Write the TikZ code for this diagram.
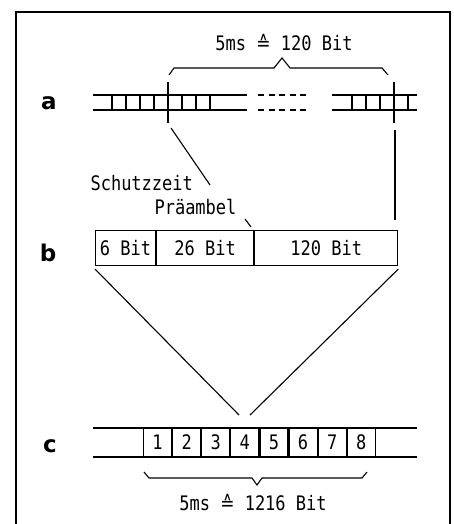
\documentclass[tikz,border=0pt]{standalone}
\usepackage{fontspec}
\setmainfont{DejaVu Sans}
\newfontfamily\typfont[FakeStretch=0.85]{DejaVu Sans Mono}
\newfontfamily\symfont[FakeStretch=0.85]{DejaVu Sans}
\usetikzlibrary{positioning}

\tikzset{
  lbl/.style      = {font=\typfont\fontsize{20}{22}\selectfont, inner sep=0pt},
  rowname/.style  = {font=\bfseries\fontsize{23}{25}\selectfont, inner sep=0pt},
  field/.style    = {draw, lbl, minimum height=35pt, anchor=west},
  slot/.style     = {draw, lbl, minimum width=28pt, minimum height=29pt, anchor=west},
  bitline/.style  = {line width=1.2pt},
  smalltick/.style= {line width=1.1pt},
  bigtick/.style  = {line width=1.1pt}
}

\begin{document}
\begin{tikzpicture}
[
    x=1pt, y=-1pt,
    every path/.style = {line width=1.1pt}
  ]
\useasboundingbox (0,0) rectangle (454,524);
% frame
\draw (16,530) -- (16,12) -- (450,12) -- (450,530);

% row labels
\node[rowname] (la) at (49,103) {a};
\node[rowname] (lb) at (48,253) {b};
\node[rowname] (lc) at (50,446) {c};

% row a
\draw[bitline] (93,95) -- (247,95) (93,110) -- (247,110);
\draw[bitline] (332,95) -- (417,95) (332,110) -- (417,110);
\draw[bitline, dash pattern=on 6pt off 4.5pt] (258,95) -- (310,95) (258,110) -- (310,110);
\foreach \x in {112,126,140,154,182,196,210,352,366,380,408}
  \draw[smalltick] (\x,95) -- (\x,110);
\coordinate (gl) at (168,82);
\coordinate (gr) at (394,82);
\draw[bigtick] (gl) -- ++(0,41);
\draw[bigtick] (gr) -- ++(0,41);

% brace a
\draw (169,75) -- (174,68) -- (274,68) -- (282,58) -- (290,68) -- (382,68) -- (388,75);
\node[lbl] (ta) at (284,43) {5ms {\symfont ≙} 120 Bit};

% row b
\node[field, minimum width=60pt] (f1) at (95,248) {6 Bit};
\node[field, minimum width=97pt, right=0pt of f1] (f2) {26 Bit};
\node[field, minimum width=143pt, right=0pt of f2] (f3) {120 Bit};

\node[lbl, anchor=west] (sz) at (90,183) {Schutzzeit};
\node[lbl, anchor=west] (pa) at (154,207) {Präambel};
\coordinate (szs) at (171,128);
\coordinate (sze) at (210,185);
\draw (szs) -- (sze);
\draw (245,219) -- (251,227);
\coordinate (grs) at (395,130);
\coordinate (gre) at (395,220);
\draw (grs) -- (gre);

% row c
\draw[bitline] (93,428) -- (417,428) (93,457) -- (417,457);
\node[slot] (s1) at (143,442.5) {1};
\foreach \i [remember=\i as \j (initially 1)] in {2,...,8}
  \node[slot, right=0pt of s\j] (s\i) {\i};

\coordinate (cl) at (239,415);
\coordinate (cr) at (250,415);
\draw ([yshift=-3pt]f1.south west) -- (cl);
\draw ([yshift=-3pt]f3.south east) -- (cr);

% brace c
\draw (144,472) -- (149,478) -- (252,478) -- (257,485) -- (262,478) -- (362,478) -- (367,472);
\node[lbl] (tc) at (253,503) {5ms {\symfont ≙} 1216 Bit};
\end{tikzpicture}
\end{document}
